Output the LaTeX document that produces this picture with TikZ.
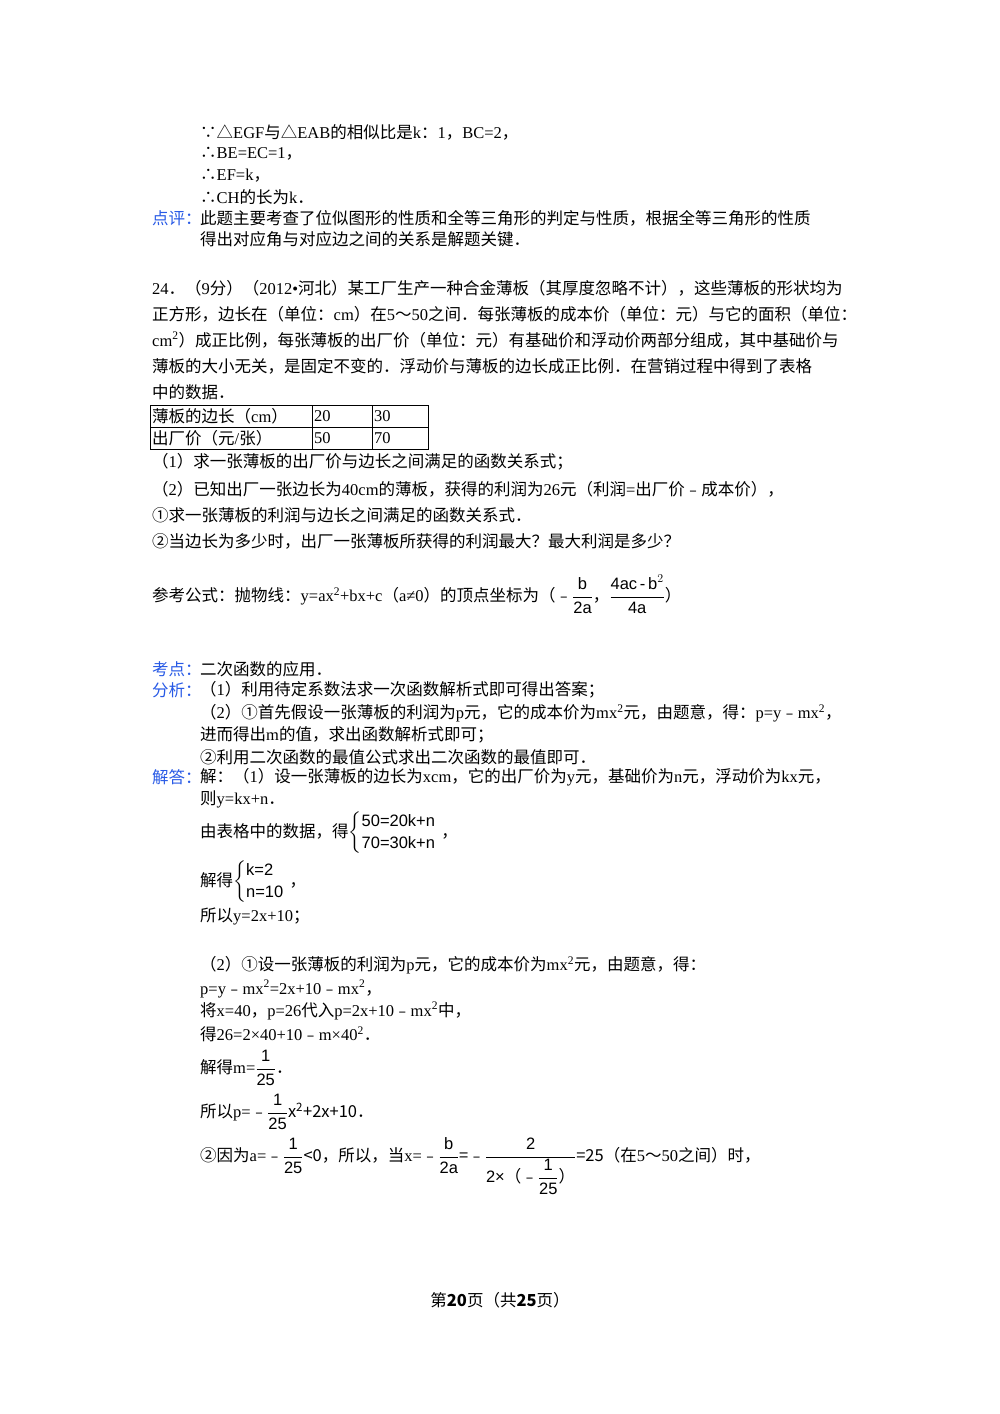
\documentclass[tikz,border=0pt]{standalone}
\usepackage{amsmath}
\usepackage{fontspec}
\setmainfont{Liberation Serif}
\setsansfont{Liberation Sans}
\newfontfamily\cjk{Noto Sans CJK SC}
\XeTeXinterchartokenstate=1
\newXeTeXintercharclass\CJKc
\newcount\cc
\def\setrange#1#2{\cc=#1 \loop\XeTeXcharclass\cc=\CJKc\ifnum\cc<#2 \advance\cc by 1 \repeat}
\setrange{"3000}{"9FFF}
\setrange{"FF00}{"FFEF}
\setrange{"FE30}{"FE6F}
\setrange{"2460}{"24FF}
\setrange{"2234}{"2235}
\setrange{"25B3}{"25B3}
\XeTeXinterchartoks 0 \CJKc = {\cjk}
\XeTeXinterchartoks 4095 \CJKc = {\cjk}
\XeTeXinterchartoks \CJKc 0 = {\rmfamily}
\definecolor{lab}{RGB}{40,90,230}
\tikzset{tx/.style={anchor=west,inner sep=0pt,font=\fontsize{16.5}{20}\selectfont}}
\newcommand\T[3]{\node[tx] (n#1#2) at (#1,-#2) {#3};}
\begin{document}
\begin{tikzpicture}[x=1pt,y=1pt]
\useasboundingbox[fill=white] (0,0) rectangle (1000,-1414);
\T{200}{132}{∵△EGF与△EAB的相似比是k：1，BC=2，}
\T{200}{154}{∴BE=EC=1，}
\T{200}{176}{∴EF=k，}
\T{200}{197}{∴CH的长为k．}
\T{152}{218}{\color{lab}点评：}
\T{200}{218}{此题主要考查了位似图形的性质和全等三角形的判定与性质，根据全等三角形的性质}
\T{200}{239}{得出对应角与对应边之间的关系是解题关键．}
\T{152}{288}{24．（9分）（2012•河北）某工厂生产一种合金薄板（其厚度忽略不计），这些薄板的形状均为}
\T{152}{314}{正方形，边长在（单位：cm）在5～50之间．每张薄板的成本价（单位：元）与它的面积（单位：}
\T{152}{340}{cm\textsuperscript{2}）成正比例，每张薄板的出厂价（单位：元）有基础价和浮动价两部分组成，其中基础价与}
\T{152}{366}{薄板的大小无关，是固定不变的．浮动价与薄板的边长成正比例．在营销过程中得到了表格}
\T{152}{392}{中的数据．}
\draw (150,-405) rectangle (428,-449);
\draw (150,-427) -- (428,-427);
\draw (312,-405) -- (312,-449);
\draw (372,-405) -- (372,-449);
\T{152}{416}{薄板的边长（cm）}
\T{314}{416}{20}
\T{374}{416}{30}
\T{152}{438}{出厂价（元/张）}
\T{314}{438}{50}
\T{374}{438}{70}
\T{152}{462}{（1）求一张薄板的出厂价与边长之间满足的函数关系式；}
\T{152}{489}{（2）已知出厂一张边长为40cm的薄板，获得的利润为26元（利润=出厂价﹣成本价），}
\T{152}{515}{①求一张薄板的利润与边长之间满足的函数关系式．}
\T{152}{541}{②当边长为多少时，出厂一张薄板所获得的利润最大？最大利润是多少？}
\T{152}{594}{参考公式：抛物线：y=ax\textsuperscript{2}+bx+c（a≠0）的顶点坐标为（﹣$\dfrac{\textsf{b}}{\textsf{2a}}$，$\dfrac{\textsf{4ac\,-\,b}^2}{\textsf{4a}}$）}
\T{152}{669}{\color{lab}考点：}
\T{200}{669}{二次函数的应用．}
\T{152}{690}{\color{lab}分析：}
\T{200}{690}{（1）利用待定系数法求一次函数解析式即可得出答案；}
\T{200}{713}{（2）①首先假设一张薄板的利润为p元，它的成本价为mx\textsuperscript{2}元，由题意，得：p=y﹣mx\textsuperscript{2}，}
\T{200}{735}{进而得出m的值，求出函数解析式即可；}
\T{200}{757}{②利用二次函数的最值公式求出二次函数的最值即可．}
\T{152}{777}{\color{lab}解答：}
\T{200}{777}{解：（1）设一张薄板的边长为xcm，它的出厂价为y元，基础价为n元，浮动价为kx元，}
\T{200}{799}{则y=kx+n．}
\T{200}{833}{由表格中的数据，得$\left\{\begin{array}{@{}l}\textsf{50=20k+n}\\[2pt]\textsf{70=30k+n}\end{array}\right.$，}
\T{200}{882}{解得$\left\{\begin{array}{@{}l}\textsf{k=2}\\[2pt]\textsf{n=10}\end{array}\right.$，}
\T{200}{916}{所以y=2x+10；}
\T{200}{965}{（2）①设一张薄板的利润为p元，它的成本价为mx\textsuperscript{2}元，由题意，得：}
\T{200}{989}{p=y﹣mx\textsuperscript{2}=2x+10﹣mx\textsuperscript{2}，}
\T{200}{1011}{将x=40，p=26代入p=2x+10﹣mx\textsuperscript{2}中，}
\T{200}{1034}{得26=2×40+10﹣m×40\textsuperscript{2}．}
\T{200}{1068}{解得m=$\dfrac{\textsf{1}}{\textsf{25}}$．}
\T{200}{1112}{所以p=﹣$\dfrac{\textsf{1}}{\textsf{25}}$x\textsuperscript{2}+2x+10．}
\T{200}{1166}{②因为a=﹣$\dfrac{\textsf{1}}{\textsf{25}}$<0，所以，当x=﹣$\dfrac{\textsf{b}}{\textsf{2a}}$=﹣$\dfrac{\textsf{2}}{\textsf{2×（﹣}\dfrac{\textsf{1}}{\textsf{25}}\textsf{）}}$=25（在5～50之间）时，}
\node[tx,anchor=center] (foot) at (500,-1300) {第\textbf{20}页（共\textbf{25}页）};
\end{tikzpicture}
\end{document}
